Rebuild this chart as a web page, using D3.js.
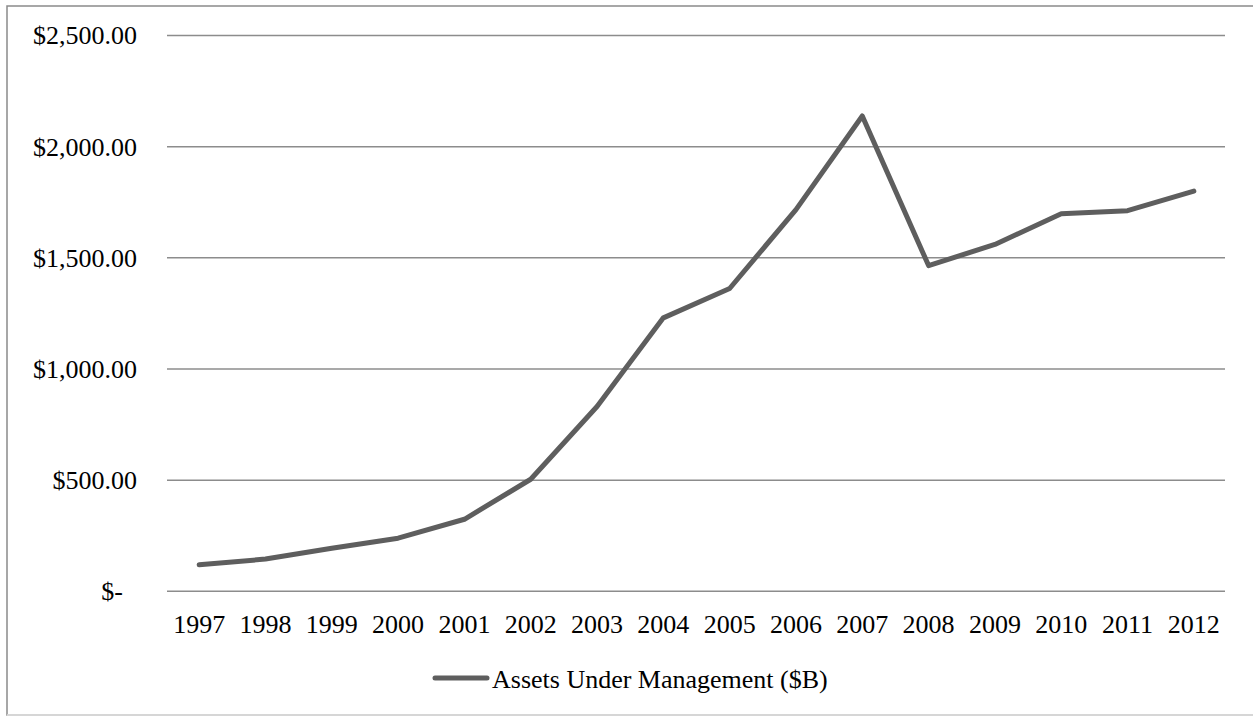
<!DOCTYPE html>
<html>
<head>
<meta charset="utf-8">
<script src="https://cdn.jsdelivr.net/npm/d3@7"></script>
<style>
  html, body { margin: 0; padding: 0; background: #fff; }
  svg { display: block; font-family: "Liberation Serif", "Times New Roman", serif; }
</style>
</head>
<body>
<div id="chart"></div>
<script>
// Data
const years = ['1997', '1998', '1999', '2000', '2001', '2002', '2003', '2004',
               '2005', '2006', '2007', '2008', '2009', '2010', '2011', '2012'];
const assets = [119, 145, 194, 239, 324, 504, 831, 1230,
                1362, 1717, 2138, 1465, 1560, 1698, 1712, 1800];
const yTicks = [0, 500, 1000, 1500, 2000, 2500];
const seriesName = 'Assets Under Management ($B)';

const width = 1253, height = 716;
const margin = { top: 35.5, right: 26, bottom: 124.7, left: 166 };

const svg = d3.select('#chart').append('svg')
    .attr('width', width)
    .attr('height', height);

// Outer chart border
svg.append('rect')
    .attr('x', 7).attr('y', 6)
    .attr('width', width).attr('height', height - 7)
    .attr('fill', 'none')
    .attr('stroke', '#8a8a8a')
    .attr('stroke-width', 1.5);
svg.append('line')
    .attr('x1', 7).attr('x2', width)
    .attr('y1', 715).attr('y2', 715)
    .attr('stroke', '#e6e6e6').attr('stroke-width', 1.5);

const x = d3.scaleBand()
    .domain(years)
    .range([margin.left, 1227]);

const y = d3.scaleLinear()
    .domain([0, 2500])
    .range([height - margin.bottom, margin.top]);

// Gridlines
svg.append('g')
    .selectAll('line')
    .data(yTicks)
    .enter()
    .append('line')
    .attr('x1', 167)
    .attr('x2', 1225)
    .attr('y1', d => y(d))
    .attr('y2', d => y(d))
    .attr('stroke', '#8c8c8c')
    .attr('stroke-width', 1.5);

// Y axis labels (accounting format)
const fmt = d => d === 0 ? '$-' : '$' + d3.format(',.2f')(d);
svg.append('g')
    .selectAll('text')
    .data(yTicks)
    .enter()
    .append('text')
    .attr('x', d => d === 0 ? 123 : 137)
    .attr('y', d => y(d))
    .attr('dy', '0.34em')
    .attr('text-anchor', 'end')
    .attr('font-size', '26px')
    .attr('fill', '#000')
    .text(fmt);

// X axis labels
svg.append('g')
    .selectAll('text')
    .data(years)
    .enter()
    .append('text')
    .attr('x', d => x(d) + x.bandwidth() / 2)
    .attr('y', 633)
    .attr('text-anchor', 'middle')
    .attr('font-size', '26px')
    .attr('fill', '#000')
    .text(d => d);

// Series line
const line = d3.line()
    .x((d, i) => x(years[i]) + x.bandwidth() / 2)
    .y(d => y(d));

svg.append('path')
    .datum(assets)
    .attr('d', line)
    .attr('fill', 'none')
    .attr('stroke', '#5e5e5e')
    .attr('stroke-width', 5)
    .attr('stroke-linejoin', 'round')
    .attr('stroke-linecap', 'round');

// Legend
const legend = svg.append('g')
    .attr('transform', 'translate(435, 678)');

legend.append('line')
    .attr('x1', 0).attr('x2', 52)
    .attr('y1', 0).attr('y2', 0)
    .attr('stroke', '#5e5e5e')
    .attr('stroke-width', 5)
    .attr('stroke-linecap', 'round');

legend.append('text')
    .attr('x', 57)
    .attr('y', 10)
    .attr('font-size', '26px')
    .attr('fill', '#000')
    .text(seriesName);
</script>
</body>
</html>
